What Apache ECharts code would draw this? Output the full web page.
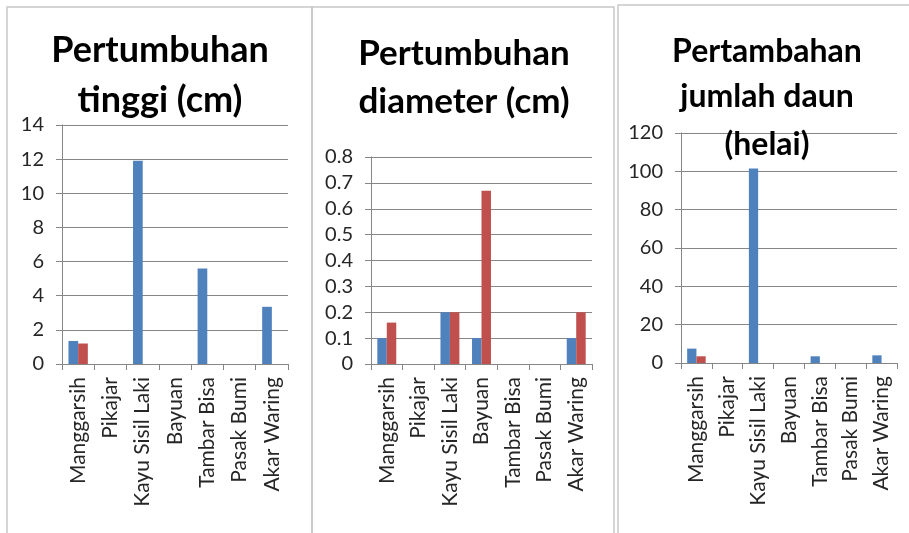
<!DOCTYPE html>
<html>
<head>
<meta charset="utf-8">
<script src="https://cdn.jsdelivr.net/npm/echarts@6/dist/echarts.min.js"></script>
<style>html,body{margin:0;padding:0;background:#fff}#c{width:909px;height:533px}</style>
</head>
<body>
<div id="c"></div>
<script>
const categories = ['Manggarsih', 'Pikajar', 'Kayu Sisil Laki', 'Bayuan', 'Tambar Bisa', 'Pasak Bumi', 'Akar Waring'];

// Panel 1: Pertumbuhan tinggi (cm)
const tinggiBlue = [1.35, 0, 11.9, 0, 5.6, 0, 3.35];
const tinggiRed  = [1.2, 0, 0, 0, 0, 0, 0];
// Panel 2: Pertumbuhan diameter (cm)
const diameterBlue = [0.1, 0, 0.2, 0.1, 0, 0, 0.1];
const diameterRed  = [0.16, 0, 0.2, 0.67, 0, 0, 0.2];
// Panel 3: Pertambahan jumlah daun (helai)
const daunBlue = [7.5, 0, 101.5, 0, 3.5, 0, 4];
const daunRed  = [3.5, 0, 0, 0, 0, 0, 0];

const titles = [
  ['Pertumbuhan', 'tinggi (cm)'],
  ['Pertumbuhan', 'diameter (cm)'],
  ['Pertambahan', 'jumlah daun', '(helai)']
];
const yMax = [14, 0.8, 120];
const yInterval = [2, 0.1, 20];

const blue = '#4F81BD', red = '#C0504D';
const axisGray = '#868686';
const labelColor = '#262626';

const grids = [
  {left: 62, top: 125, width: 226, height: 239},
  {left: 371, top: 157, width: 221, height: 207},
  {left: 681, top: 133, width: 216, height: 230}
];

const xAxes = grids.map((g, i) => ({
  type: 'category', gridIndex: i, data: categories,
  axisLine: {lineStyle: {color: axisGray}},
  axisTick: {show: true, length: 6, lineStyle: {color: axisGray}},
  axisLabel: {rotate: 90, interval: 0, margin: 13, fontFamily: 'Lato', fontSize: 21, color: labelColor}
}));
const yAxes = grids.map((g, i) => ({
  type: 'value', gridIndex: i, min: 0, max: yMax[i], interval: yInterval[i],
  axisLine: {show: true, lineStyle: {color: axisGray}},
  axisTick: {show: true, length: 6, lineStyle: {color: axisGray}},
  splitLine: {lineStyle: {color: axisGray, width: 1}},
  axisLabel: {margin: 18, fontFamily: 'Lato', fontSize: 20, color: labelColor}
}));

const seriesData = [[tinggiBlue, tinggiRed], [diameterBlue, diameterRed], [daunBlue, daunRed]];
const series = [];
seriesData.forEach((pair, i) => {
  series.push({type: 'bar', xAxisIndex: i, yAxisIndex: i, data: pair[0], itemStyle: {color: blue}, barGap: '0%', barCategoryGap: '40%'});
  series.push({type: 'bar', xAxisIndex: i, yAxisIndex: i, data: pair[1], itemStyle: {color: red}, barGap: '0%', barCategoryGap: '40%'});
});

const titleCfg = [
  {cx: 160, ys: [50, 100], size: 36},
  {cx: 464, ys: [54, 102], size: 35},
  {cx: 767, ys: [52, 97, 145], size: 32}
];
const graphic = [];
// panel borders
[[7, 7, 305, 540], [312, 7, 302, 540], [618, 5, 300, 540]].forEach(r => {
  graphic.push({type: 'rect', shape: {x: r[0], y: r[1], width: r[2], height: r[3]}, style: {fill: 'none', stroke: '#c8c8c8', lineWidth: 1.5}, z: -1});
});
titles.forEach((lines, i) => {
  lines.forEach((t, j) => {
    graphic.push({type: 'text', x: titleCfg[i].cx, y: titleCfg[i].ys[j], z: 10,
      style: {text: t, fill: '#000', font: 'bold ' + titleCfg[i].size + 'px Lato', align: 'center', verticalAlign: 'middle'}});
  });
});

const chart = echarts.init(document.getElementById('c'));
chart.setOption({
  animation: false,
  grid: grids,
  xAxis: xAxes,
  yAxis: yAxes,
  series: series,
  graphic: graphic
});
</script>
</body>
</html>
